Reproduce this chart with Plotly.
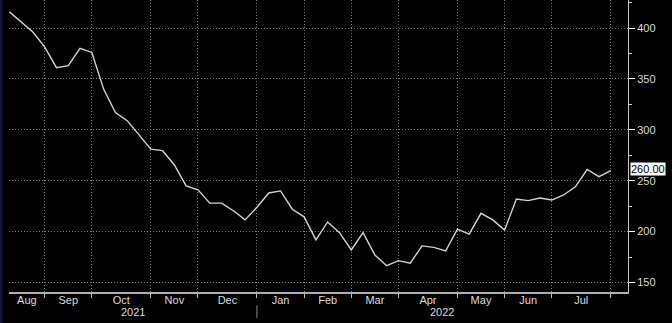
import pandas as pd
import plotly.graph_objects as go

# Weekly (Friday) observations
start_date = "2021-08-13"
n_points = 52
values = [416, 406, 396, 381.5, 361, 363, 380, 376, 340, 317, 309,
          295, 281, 279.5, 265.5, 245, 241, 228, 228, 220.5, 211.5,
          224, 238, 240, 222, 214.5, 192, 209.5, 199, 182, 199,
          177, 166.5, 171.5, 169, 186, 184.5, 181, 202.5, 197.5,
          218, 211.5, 201.5, 232, 230.5, 233, 231, 236, 244, 261,
          254, 260]
month_labels = ["Aug", "Sep", "Oct", "Nov", "Dec", "Jan", "Feb", "Mar",
                "Apr", "May", "Jun", "Jul"]
year_labels = ["2021", "2022"]
y_ticks = [150, 200, 250, 300, 350, 400]
last_label = "260.00"

dates = pd.date_range(start_date, periods=n_points, freq="W-FRI")
x_start = pd.Timestamp("2021-08-12 20:00")
x_end = pd.Timestamp("2022-08-15 06:00")

# first weekly point of each month -> grid lines
s = pd.Series(dates)
first_of_month = s.groupby(s.dt.to_period("M")).first().tolist()
grid_dates = first_of_month[1:]  # Sep 2021 .. Aug 2022
bounds = [x_start] + grid_dates
label_pos = [bounds[i] + (bounds[i + 1] - bounds[i]) / 2 for i in range(len(bounds) - 1)]

jan = grid_dates[4]
year_pos = [x_start + (jan - x_start) / 2, jan + (x_end - jan) / 2]

txt = "#dcdcdc"
font = dict(family="Liberation Sans Narrow, Arial Narrow, sans-serif", size=11, color=txt)

fig = go.Figure()
fig.add_trace(go.Scatter(x=dates, y=values, mode="lines",
                         line=dict(color="#d4d4d4", width=1.4), hoverinfo="skip",
                         showlegend=False))
# invisible trace for second x-axis (month labels)
fig.add_trace(go.Scatter(x=[dates[0]], y=[values[0]], xaxis="x2", mode="lines",
                         line=dict(width=0), showlegend=False, hoverinfo="skip"))

fig.update_layout(
    width=672, height=323,
    margin=dict(l=9, r=44, t=0, b=31),
    paper_bgcolor="#000000", plot_bgcolor="#000000",
    font=font,
    xaxis=dict(type="date", range=[x_start, x_end], tickvals=grid_dates,
               showticklabels=False, ticks="outside", ticklen=4, tickcolor="#bdbdbd",
               showgrid=True, gridcolor="#7a7a7a", griddash="1px,2px", gridwidth=1,
               showline=True, linecolor="#b0b0b0", linewidth=2, zeroline=False),
    xaxis2=dict(type="date", range=[x_start, x_end], overlaying="x", side="bottom",
                anchor="y", tickvals=label_pos, ticktext=month_labels, ticks="",
                showgrid=False, showline=False, zeroline=False, tickfont=font),
    yaxis=dict(range=[140.7, 427.5], side="right", tickvals=y_ticks,
               ticks="outside", ticklen=6, tickcolor="#ffffff", tickwidth=1,
               minor=dict(dtick=25, ticks="outside", ticklen=3, tickcolor="#cfcfcf", showgrid=False),
               showgrid=True, gridcolor="#7a7a7a", griddash="1px,2px", gridwidth=1,
               showline=True, linecolor="#c8c8c8", linewidth=1, zeroline=False,
               tickfont=font),
)

for yl, xp in zip(year_labels, year_pos):
    fig.add_annotation(x=xp, y=-0.068, xref="x", yref="paper", text=yl,
                       showarrow=False, font=font, yanchor="middle")

fig.add_shape(type="line", x0=jan, x1=jan, xref="x", y0=-0.045, y1=-0.089, yref="paper",
              line=dict(color="#8a8a8a", width=1))
fig.add_shape(type="rect", x0=-0.0145, x1=-0.0105, xref="paper", y0=-0.12, y1=1.0,
              yref="paper", fillcolor="#14144a", line=dict(width=0))

fig.add_annotation(x=1.003, y=values[-1], xref="paper", yref="y", text=last_label,
                   showarrow=False, xanchor="left", yanchor="middle", yshift=2,
                   bgcolor="#ffffff", font=dict(family=font["family"], size=11, color="#000000"),
                   borderpad=0)

fig.write_html("out.html")
